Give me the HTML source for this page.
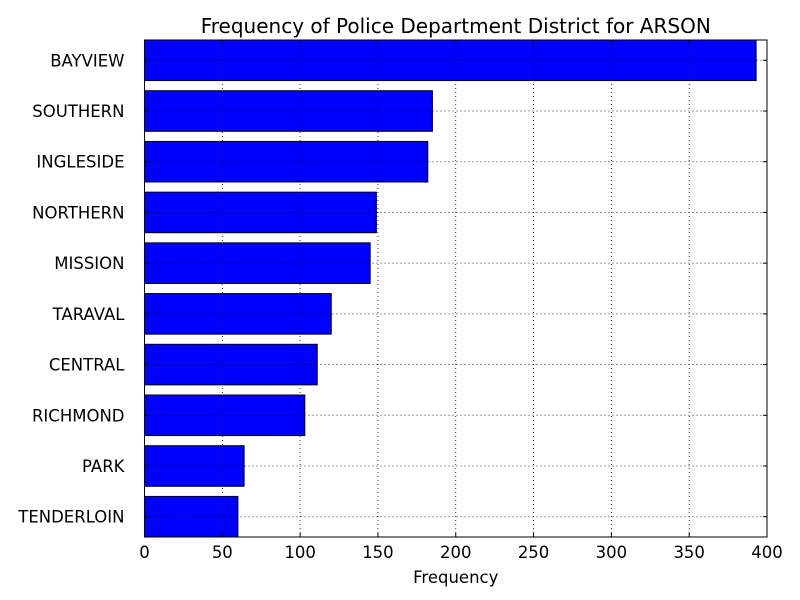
<!DOCTYPE html>
<html><head><meta charset="utf-8"><style>body{margin:0;background:#fff}svg{display:block;font-family:"DejaVu Sans","Liberation Sans",sans-serif}</style></head>
<body>
<svg id="chart" width="800" height="600"></svg>
<script>
const categories=["BAYVIEW","SOUTHERN","INGLESIDE","NORTHERN","MISSION","TARAVAL","CENTRAL","RICHMOND","PARK","TENDERLOIN"];
const values=[393,185,182,149,145,120,111,103,64,60];
const xTicks=[0,50,100,150,200,250,300,350,400];
const L=144.5,R=767,T=40,B=537,xMax=400;
const n=categories.length,s=(B-T)/(n-1+0.8),bh=0.8*s;
const X=v=>L+(R-L)*v/xMax;
const Yc=i=>T+bh/2+i*s;
const svg=document.getElementById('chart');const NS='http://www.w3.org/2000/svg';
function mk(t,a,p){const e=document.createElementNS(NS,t);for(const k in a)e.setAttribute(k,a[k]);(p||svg).appendChild(e);return e;}
const bg=mk('rect',{x:L,y:T,width:R-L,height:B-T,fill:'#fff'});


categories.forEach((c,i)=>{
 const r=mk('rect',{x:L,y:Yc(i)-bh/2,width:X(values[i])-L,height:bh,fill:'#0000ff',stroke:'#000','stroke-width':1});
 
 
 const t=mk('text',{x:L-20,y:Yc(i)+6,'text-anchor':'end','font-size':16.5});t.textContent=c;
 
 
 const g=mk('line',{x1:L,x2:R,y1:Yc(i),y2:Yc(i),stroke:'#000','stroke-dasharray':'1,3','stroke-width':0.8});
 
 
 mk('line',{x1:L,x2:L+4,y1:Yc(i),y2:Yc(i),stroke:'#000'});
 mk('line',{x1:R,x2:R-4,y1:Yc(i),y2:Yc(i),stroke:'#000'});
});
xTicks.forEach(v=>{
 const x=X(v);
 const g=mk('line',{x1:x,x2:x,y1:T,y2:B,stroke:'#000','stroke-dasharray':'1,3','stroke-width':0.8});
 
 
 mk('line',{x1:x,x2:x,y1:B,y2:B-4,stroke:'#000'});
 mk('line',{x1:x,x2:x,y1:T,y2:T+4,stroke:'#000'});
 const t=mk('text',{x:x,y:B+21,'text-anchor':'middle','font-size':16.5});t.textContent=v;
 
 
});
const fr=mk('rect',{x:L,y:T,width:R-L,height:B-T,fill:'none',stroke:'#000','stroke-width':1});


const ti=mk('text',{x:(L+R)/2,y:33,'text-anchor':'middle','font-size':20});ti.textContent='Frequency of Police Department District for ARSON';


const xl=mk('text',{x:(L+R)/2,y:583,'text-anchor':'middle','font-size':16.5});xl.textContent='Frequency';


</script>
</body></html>
